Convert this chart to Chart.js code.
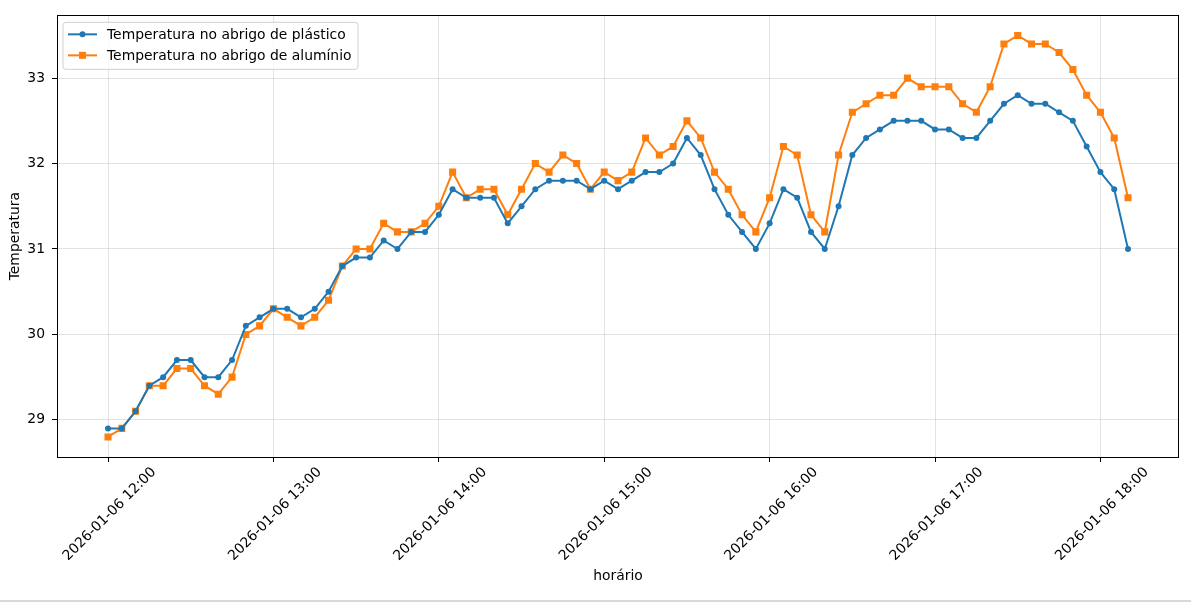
<!DOCTYPE html>
<html>
<head>
<meta charset="utf-8">
<script src="https://cdn.jsdelivr.net/npm/chart.js@4.4.1/dist/chart.umd.min.js"></script>
<style>
  html, body { margin: 0; padding: 0; background: #d9d9d9; }
  #wrap { width: 1191px; height: 600px; background: #fff; }
</style>
</head>
<body>
<div id="wrap"><canvas id="c" width="1191" height="600"></canvas></div>
<script>
const DAY = "2026-01-06";
const times = [
  "12:00","12:05","12:10","12:15","12:20","12:25","12:30","12:35","12:40","12:45","12:50","12:55",
  "13:00","13:05","13:10","13:15","13:20","13:25","13:30","13:35","13:40","13:45","13:50","13:55",
  "14:00","14:05","14:10","14:15","14:20","14:25","14:30","14:35","14:40","14:45","14:50","14:55",
  "15:00","15:05","15:10","15:15","15:20","15:25","15:30","15:35","15:40","15:45","15:50","15:55",
  "16:00","16:05","16:10","16:15","16:20","16:25","16:30","16:35","16:40","16:45","16:50","16:55",
  "17:00","17:05","17:10","17:15","17:20","17:25","17:30","17:35","17:40","17:45","17:50","17:55",
  "18:00","18:05","18:10"
];
const plastico = [
  28.9,28.9,29.1,29.4,29.5,29.7,29.7,29.5,29.5,29.7,30.1,30.2,
  30.3,30.3,30.2,30.3,30.5,30.8,30.9,30.9,31.1,31.0,31.2,31.2,
  31.4,31.7,31.6,31.6,31.6,31.3,31.5,31.7,31.8,31.8,31.8,31.7,
  31.8,31.7,31.8,31.9,31.9,32.0,32.3,32.1,31.7,31.4,31.2,31.0,
  31.3,31.7,31.6,31.2,31.0,31.5,32.1,32.3,32.4,32.5,32.5,32.5,
  32.4,32.4,32.3,32.3,32.5,32.7,32.8,32.7,32.7,32.6,32.5,32.2,
  31.9,31.7,31.0
];
const aluminio = [
  28.8,28.9,29.1,29.4,29.4,29.6,29.6,29.4,29.3,29.5,30.0,30.1,
  30.3,30.2,30.1,30.2,30.4,30.8,31.0,31.0,31.3,31.2,31.2,31.3,
  31.5,31.9,31.6,31.7,31.7,31.4,31.7,32.0,31.9,32.1,32.0,31.7,
  31.9,31.8,31.9,32.3,32.1,32.2,32.5,32.3,31.9,31.7,31.4,31.2,
  31.6,32.2,32.1,31.4,31.2,32.1,32.6,32.7,32.8,32.8,33.0,32.9,
  32.9,32.9,32.7,32.6,32.9,33.4,33.5,33.4,33.4,33.3,33.1,32.8,
  32.6,32.3,31.6
];
const xTickLabels = ["12:00","13:00","14:00","15:00","16:00","17:00","18:00"];
const yTickValues = [29, 30, 31, 32, 33];
const seriesNames = ["Temperatura no abrigo de plástico", "Temperatura no abrigo de alumínio"];
const xTitle = "horário";
const yTitle = "Temperatura";

const toMin = s => { const [h, m] = s.split(":").map(Number); return (h - 12) * 60 + m; };
const xs = times.map(toMin);
const xTicks = xTickLabels.map(toMin);
const xmin = Math.min(...xs), xmax = Math.max(...xs);
const allY = plastico.concat(aluminio);
const ymin = Math.min(...allY), ymax = Math.max(...allY);
const xm = (xmax - xmin) * 0.05, ym = (ymax - ymin) * 0.05;

const FONT = "DejaVu Sans";
const FS = 13.9;
const BLUE = "#1f77b4", ORANGE = "#ff7f0e";

const framePlugin = {
  id: "frame",
  afterDatasetsDraw(chart) {
    const { ctx, chartArea: a } = chart;
    ctx.save();
    ctx.strokeStyle = "#000";
    ctx.lineWidth = 1;
    ctx.strokeRect(Math.round(a.left) + 0.5, Math.round(a.top) + 0.5,
                   Math.round(a.right - a.left) - 1, Math.round(a.bottom - a.top));
    ctx.restore();
  }
};

const legendPlugin = {
  id: "mlegend",
  afterDraw(chart) {
    const { ctx, chartArea: a } = chart;
    const x0 = a.left + 6, y0 = a.top + 7, w = 295, h = 47;
    ctx.save();
    ctx.beginPath();
    const r = 3;
    ctx.moveTo(x0 + r, y0);
    ctx.arcTo(x0 + w, y0, x0 + w, y0 + h, r);
    ctx.arcTo(x0 + w, y0 + h, x0, y0 + h, r);
    ctx.arcTo(x0, y0 + h, x0, y0, r);
    ctx.arcTo(x0, y0, x0 + w, y0, r);
    ctx.closePath();
    ctx.fillStyle = "rgba(255,255,255,0.8)";
    ctx.fill();
    ctx.strokeStyle = "#d0d0d0";
    ctx.lineWidth = 1;
    ctx.stroke();
    chart.data.datasets.forEach((ds, i) => {
      const cy = y0 + 12 + i * 21;
      const lx = x0 + 5;
      ctx.strokeStyle = ds.borderColor;
      ctx.lineWidth = 2;
      ctx.beginPath();
      ctx.moveTo(lx, cy); ctx.lineTo(lx + 29, cy); ctx.stroke();
      ctx.fillStyle = ds.borderColor;
      if (ds.pointStyle === "rect") {
        ctx.fillRect(lx + 14.5 - 3.5, cy - 3.5, 7, 7);
      } else {
        ctx.beginPath(); ctx.arc(lx + 14.5, cy, 3, 0, Math.PI * 2); ctx.fill();
      }
      ctx.fillStyle = "#000";
      ctx.font = FS + "px '" + FONT + "'";
      ctx.textBaseline = "middle";
      ctx.fillText(ds.label, x0 + 44, cy + 1);
    });
    ctx.restore();
  }
};

new Chart(document.getElementById("c"), {
  type: "line",
  data: {
    datasets: [
      {
        label: seriesNames[0],
        data: xs.map((x, i) => ({ x, y: plastico[i] })),
        borderColor: BLUE, backgroundColor: BLUE,
        borderWidth: 2, pointStyle: "circle", pointRadius: 3, pointBorderWidth: 0,
        tension: 0
      },
      {
        label: seriesNames[1],
        data: xs.map((x, i) => ({ x, y: aluminio[i] })),
        borderColor: ORANGE, backgroundColor: ORANGE,
        borderWidth: 2, pointStyle: "rect", pointRadius: 5, pointBorderWidth: 0,
        tension: 0
      }
    ]
  },
  options: {
    responsive: false,
    animation: false,
    devicePixelRatio: 1,
    layout: { padding: { top: 15, right: 12, left: 0, bottom: 0 } },
    plugins: { legend: { display: false }, tooltip: { enabled: false } },
    scales: {
      x: {
        type: "linear",
        min: xmin - xm, max: xmax + xm,
        afterBuildTicks: s => { s.ticks = xTicks.map(v => ({ value: v })); },
        afterFit: s => { s.height = 143; },
        grid: { color: "rgba(176,176,176,0.35)", tickColor: "#000", tickLength: 5, lineWidth: 1 },
        border: { display: false },
        ticks: {
          color: "#000", font: { family: FONT, size: FS },
          maxRotation: 45, minRotation: 45, labelOffset: 46, padding: 2,
          autoSkip: false,
          callback: (v) => { const i = xTicks.indexOf(v); return i >= 0 ? DAY + " " + xTickLabels[i] : ""; }
        },
        title: { display: true, text: xTitle, color: "#000", font: { family: FONT, size: FS }, padding: { top: 0, bottom: 15 } }
      },
      y: {
        type: "linear",
        min: ymin - ym, max: ymax + ym,
        afterBuildTicks: s => { s.ticks = yTickValues.map(v => ({ value: v })); },
        afterFit: s => { s.width = 57; },
        grid: { color: "rgba(176,176,176,0.35)", tickColor: "#000", tickLength: 5, lineWidth: 1 },
        border: { display: false },
        ticks: { color: "#000", font: { family: FONT, size: FS }, padding: 7, callback: v => String(v) },
        title: { display: true, text: yTitle, color: "#000", font: { family: FONT, size: FS }, padding: { top: 7, bottom: 0 } }
      }
    }
  },
  plugins: [framePlugin, legendPlugin]
});
</script>
</body>
</html>
